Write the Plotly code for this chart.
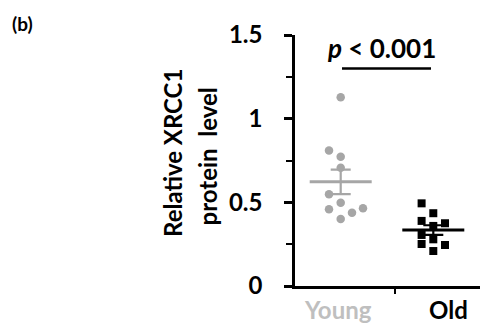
import numpy as np
import plotly.graph_objects as go

# ---- data ----
groups = ["Young", "Old"]
young_values = [1.128, 0.81, 0.773, 0.707, 0.548, 0.498, 0.458, 0.438, 0.464, 0.40]
old_values = [0.494, 0.435, 0.389, 0.359, 0.375, 0.305, 0.279, 0.245, 0.251, 0.209]
y_tick_vals = [0, 0.5, 1, 1.5]
y_tick_text = ["0", "0.5", "1", "1.5"]
p_label = "<i>p</i> < 0.001"

# ---- layout helpers (positions / jitter) ----
group_pos = {"Young": 0.457, "Old": 1.383}
young_jitter = [0, -0.117, 0, 0, -0.117, 0, -0.117, 0.113, 0.223, 0]
old_jitter = [-0.117, 0, -0.117, 0, 0.117, -0.117, 0, 0.117, -0.117, 0]
young_color = "#A6A6A6"
old_color = "#000000"
FONT = "Lato"

fig = go.Figure()


def add_group(name, values, jitter, color, symbol):
    c = group_pos[name]
    vals = np.array(values)
    mean = vals.mean()
    sem = vals.std(ddof=1) / np.sqrt(len(vals))
    fig.add_trace(go.Scatter(
        x=[c + j for j in jitter], y=values, mode="markers",
        marker=dict(color=color, size=8.5 if symbol == "circle" else 8, symbol=symbol,
                    line=dict(width=0)),
        showlegend=False, hoverinfo="skip"))
    fig.add_trace(go.Scatter(
        x=[c - 0.31, c + 0.31], y=[mean, mean], mode="lines",
        line=dict(color=color, width=3), showlegend=False, hoverinfo="skip"))
    fig.add_trace(go.Scatter(
        x=[c], y=[mean], mode="markers", marker=dict(size=0.1, color=color),
        error_y=dict(type="data", array=[sem], visible=True, color=color,
                     thickness=2.2, width=10),
        showlegend=False, hoverinfo="skip"))


add_group("Young", young_values, young_jitter, young_color, "circle")
add_group("Old", old_values, old_jitter, old_color, "square")

fig.update_layout(
    width=496, height=325,
    margin=dict(l=295, r=16, t=35, b=39),
    paper_bgcolor="white", plot_bgcolor="white",
    font=dict(family=FONT, color="black"),
    xaxis=dict(range=[0, 1.85], showgrid=False, zeroline=False,
               showline=True, linecolor="black", linewidth=2.5,
               tickvals=[], ticks="",
               minor=dict(tickvals=[1.0], ticks="outside", ticklen=5,
                          tickwidth=2, tickcolor="black"),
               fixedrange=True),
    yaxis=dict(range=[0, 1.5], showgrid=False, zeroline=False,
               showline=True, linecolor="black", linewidth=2.5,
               tickvals=y_tick_vals, ticktext=y_tick_text,
               ticks="outside", ticklen=8, tickwidth=2.5, tickcolor="black",
               ticklabelstandoff=17,
               tickfont=dict(family=FONT, size=24, color="black", weight="bold"),
               minor=dict(tickvals=[0.25, 0.75, 1.25], ticks="outside",
                          ticklen=6, tickwidth=2, tickcolor="black"),
               fixedrange=True),
)

# category labels
label_colors = {"Young": "#BFBFBF", "Old": "#000000"}
label_offsets = {"Young": -0.03, "Old": 0.15}
for g in groups:
    fig.add_annotation(x=group_pos[g] + label_offsets[g], y=-0.092, xref="x", yref="paper",
                       text=g, showarrow=False, xanchor="center", yanchor="middle",
                       font=dict(family=FONT, size=24, color=label_colors[g], weight="bold"))

# y-axis title (two lines)
fig.add_annotation(x=(173 - 295) / 185, y=0.53, xref="paper", yref="paper",
                   text="Relative XRCC1", textangle=-90, showarrow=False,
                   xanchor="center", yanchor="middle",
                   font=dict(family=FONT, size=24, color="black", weight="bold"))
fig.add_annotation(x=(207 - 295) / 185, y=0.516, xref="paper", yref="paper",
                   text="protein  level", textangle=-90, showarrow=False,
                   xanchor="center", yanchor="middle",
                   font=dict(family=FONT, size=24, color="black", weight="bold"))

# significance
fig.add_annotation(x=0.865, y=1.42, xref="x", yref="y", text=p_label, showarrow=False,
                   xanchor="center", yanchor="middle",
                   font=dict(family=FONT, size=26, color="black", weight="bold"))
fig.add_shape(type="line", x0=group_pos["Young"] + 0.013, x1=group_pos["Old"] - 0.023,
              y0=1.30, y1=1.30, xref="x", yref="y",
              line=dict(color="black", width=2.5))

# panel label
fig.add_annotation(x=(22 - 295) / 185, y=(286 - 23) / 251, xref="paper", yref="paper",
                   text="(b)", showarrow=False, xanchor="center", yanchor="middle",
                   font=dict(family=FONT, size=19, color="black", weight="bold"))

fig.write_html("out.html")
